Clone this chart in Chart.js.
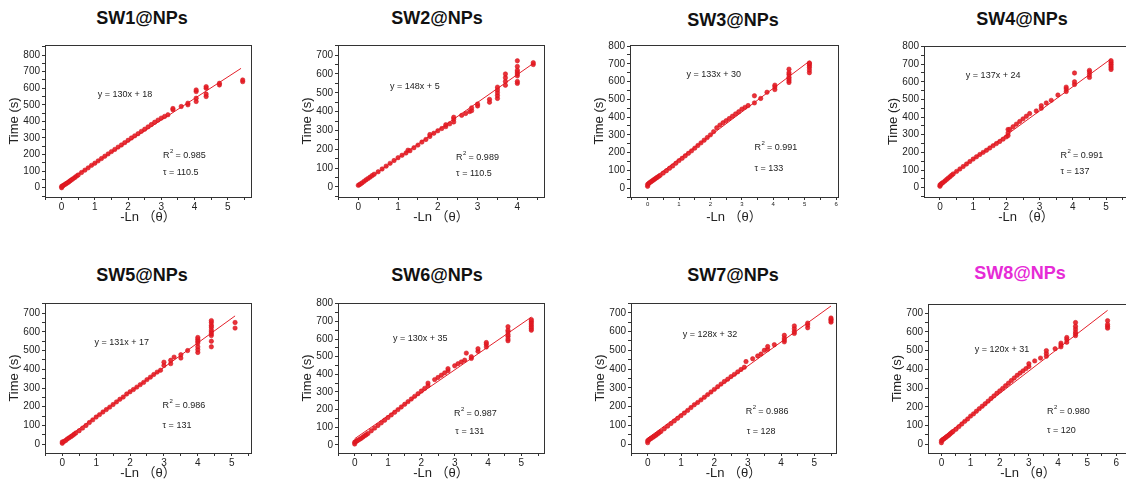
<!DOCTYPE html>
<html>
<head>
<meta charset="utf-8">
<script src="https://cdn.jsdelivr.net/npm/chart.js@4.4.1/dist/chart.umd.min.js"></script>
<style>
  body { margin: 0; width: 1126px; height: 488px; overflow: hidden; background: #fff; position: relative; font-family: "Liberation Sans", Arial, sans-serif; }
  .ttl { position: absolute; transform: translate(-50%, -50%); font-weight: bold; font-size: 18px; color: #111; white-space: nowrap; }
  canvas { position: absolute; }
</style>
</head>
<body>
<script>
// -Ln(theta) vs time, 8 samples
const sw1X = [0,0,0.03,0.06,0.1,0.14,0.18,0.22,0.26,0.3,0.35,0.4,0.45,0.5,0.6,0.7,0.8,0.9,1.0,1.1,1.2,1.3,1.4,1.5,1.6,1.7,1.8,1.9,2.0,2.1,2.2,2.3,2.4,2.5,2.6,2.7,2.8,2.9,3.0,3.1,3.2,3.35,3.35,3.6,3.8,3.8,4.05,4.05,4.05,4.05,4.35,4.35,4.35,4.35,4.75,4.75,5.45,5.45];
const sw1Y = [0,8,10,15,20,25,30,36,42,48,55,62,70,77,92,106,120,135,148,162,176,190,204,218,231,245,258,272,286,300,313,326,340,353,367,381,395,408,420,430,440,470,478,490,500,510,520,540,580,590,550,565,600,610,620,630,640,650];

const sw2X = [0,0.03,0.06,0.1,0.15,0.2,0.25,0.3,0.35,0.4,0.5,0.6,0.7,0.8,0.9,1.0,1.1,1.2,1.25,1.3,1.4,1.5,1.6,1.7,1.8,1.8,1.9,2.0,2.1,2.2,2.2,2.3,2.4,2.4,2.4,2.6,2.7,2.8,2.85,2.85,3.0,3.0,3.3,3.3,3.5,3.5,3.5,3.5,3.5,3.7,3.7,3.7,3.7,4.0,4.0,4.0,4.0,4.0,4.0,4.0,4.0,4.4,4.4];
const sw2Y = [8,12,16,22,30,38,45,52,60,67,80,95,110,125,140,155,168,180,195,192,208,222,238,252,268,278,285,298,310,320,330,335,345,360,370,380,390,400,405,420,430,440,450,465,470,485,500,515,530,540,560,580,600,550,560,590,600,610,620,640,670,650,660];

const sw3X = [0,0,0.03,0.06,0.1,0.14,0.18,0.22,0.26,0.3,0.35,0.4,0.5,0.6,0.7,0.8,0.9,1.0,1.1,1.2,1.3,1.4,1.5,1.6,1.7,1.8,1.9,2.0,2.1,2.2,2.3,2.4,2.5,2.6,2.7,2.8,2.9,3.0,3.1,3.2,3.4,3.4,3.6,3.8,4.05,4.05,4.05,4.5,4.5,4.5,4.5,4.5,4.5,4.5,5.15,5.15,5.15,5.15,5.15,5.15];
const sw3Y = [10,20,25,30,35,40,45,50,55,60,66,72,85,98,112,125,140,155,168,182,196,210,225,240,255,270,285,300,318,340,355,368,380,392,405,418,430,445,455,465,480,520,505,540,555,570,580,595,605,615,625,640,650,670,650,665,680,690,700,705];

const sw4X = [0,0,0.03,0.06,0.1,0.15,0.2,0.25,0.3,0.35,0.4,0.5,0.6,0.7,0.8,0.9,1.0,1.1,1.2,1.3,1.4,1.5,1.6,1.7,1.8,1.9,2.0,2.05,2.05,2.05,2.1,2.2,2.3,2.4,2.5,2.6,2.7,2.9,3.05,3.05,3.2,3.35,3.55,3.8,3.8,3.8,4.05,4.05,4.05,4.5,4.5,4.5,4.5,5.15,5.15,5.15,5.15,5.15,5.15];
const sw4Y = [8,15,20,25,30,38,46,54,62,70,78,92,106,120,134,148,162,175,188,200,212,225,238,250,262,275,288,295,310,330,330,345,360,375,390,405,420,435,450,465,480,495,525,545,560,570,585,600,650,625,640,655,665,670,680,690,700,710,720];

const sw5X = [0,0,0.05,0.1,0.15,0.2,0.25,0.3,0.35,0.4,0.5,0.6,0.7,0.8,0.9,1.0,1.1,1.2,1.3,1.4,1.5,1.6,1.7,1.8,1.9,2.0,2.1,2.2,2.3,2.4,2.5,2.6,2.7,2.8,2.9,3.0,3.0,3.2,3.2,3.3,3.5,3.5,3.7,4.0,4.0,4.0,4.0,4.0,4.0,4.0,4.4,4.4,4.4,4.4,4.4,4.4,4.4,4.4,4.4,4.4,5.1,5.1];
const sw5Y = [5,12,15,20,28,34,40,46,53,60,72,86,100,116,130,145,158,172,185,198,212,226,240,252,268,280,292,305,318,330,345,358,372,385,395,420,438,430,448,465,460,478,500,490,505,520,540,550,560,570,520,550,580,590,600,610,625,635,650,660,620,650];

const sw6X = [0,0,0.03,0.06,0.1,0.15,0.2,0.25,0.3,0.35,0.4,0.5,0.6,0.7,0.8,0.9,1.0,1.1,1.2,1.3,1.4,1.5,1.6,1.7,1.8,1.9,2.0,2.1,2.2,2.2,2.4,2.5,2.6,2.7,2.8,2.8,3.0,3.1,3.2,3.3,3.35,3.5,3.5,3.7,3.7,3.95,3.95,3.95,4.6,4.6,4.6,4.6,4.6,4.6,4.6,5.3,5.3,5.3,5.3,5.3,5.3,5.3];
const sw6Y = [5,15,18,22,26,32,38,45,52,58,65,80,95,110,125,140,155,170,185,200,215,230,245,260,275,290,305,320,335,350,370,382,395,408,420,432,448,460,470,480,520,490,500,530,545,555,570,580,590,600,615,625,640,650,670,650,660,670,680,690,700,710];

const sw7X = [0,0,0.03,0.06,0.1,0.15,0.2,0.25,0.3,0.35,0.4,0.5,0.6,0.7,0.8,0.9,1.0,1.1,1.2,1.3,1.4,1.5,1.6,1.7,1.8,1.9,2.0,2.1,2.2,2.3,2.4,2.5,2.6,2.7,2.8,2.9,2.95,3.15,3.3,3.4,3.5,3.6,3.6,3.8,4.1,4.1,4.1,4.1,4.4,4.4,4.4,4.4,4.8,4.8,4.8,5.5,5.5,5.5,5.5];
const sw7Y = [8,18,22,26,30,36,42,48,55,62,68,82,96,110,124,138,152,166,180,195,210,222,236,250,264,278,292,306,320,334,346,360,372,385,398,410,440,455,470,480,500,505,520,530,545,555,565,580,590,600,615,630,620,635,645,650,658,665,672];

const sw8X = [0,0,0.03,0.06,0.1,0.15,0.2,0.25,0.3,0.35,0.4,0.5,0.6,0.7,0.8,0.9,1.0,1.1,1.2,1.3,1.4,1.5,1.6,1.7,1.8,1.9,2.0,2.1,2.2,2.3,2.4,2.5,2.6,2.7,2.8,2.9,3.0,3.0,3.2,3.4,3.6,3.6,3.6,3.9,4.1,4.1,4.1,4.3,4.3,4.3,4.6,4.6,4.6,4.6,4.6,4.6,5.7,5.7,5.7,5.7];
const sw8Y = [8,18,22,26,30,36,42,48,55,62,68,80,94,108,122,135,150,162,176,190,203,216,230,244,258,272,285,298,312,326,340,354,368,380,392,404,415,430,445,460,470,485,500,510,520,530,540,545,560,570,580,590,600,615,630,650,620,630,640,660];

// linear fit end points (x, y)
const fit1 = [[0, 18], [5.4, 720]];
const fit2 = [[0, 5], [4.4, 656]];
const fit3 = [[0, 30], [5.15, 715]];
const fit4 = [[0, 24], [5.15, 730]];
const fit5 = [[0, 17], [5.1, 685]];
const fit6 = [[0, 35], [5.3, 724]];
const fit7 = [[0, 32], [5.5, 736]];
const fit8 = [[0, 31], [5.7, 715]];

// tick labels
const xTicks4 = [0, 1, 2, 3, 4];
const xTicks5 = [0, 1, 2, 3, 4, 5];
const xTicks6 = [0, 1, 2, 3, 4, 5, 6];
const yTicks700 = [0, 100, 200, 300, 400, 500, 600, 700];
const yTicks800 = [0, 100, 200, 300, 400, 500, 600, 700, 800];

// fit results
const titles = ["SW1@NPs", "SW2@NPs", "SW3@NPs", "SW4@NPs", "SW5@NPs", "SW6@NPs", "SW7@NPs", "SW8@NPs"];
const equations = ["y = 130x + 18", "y = 148x + 5", "y = 133x + 30", "y = 137x + 24", "y = 131x + 17", "y = 130x + 35", "y = 128x + 32", "y = 120x + 31"];
const r2Values = ["0.985", "0.989", "0.991", "0.991", "0.986", "0.987", "0.986", "0.980"];
const tauValues = ["110.5", "110.5", "133", "137", "131", "131", "128", "120"];

const RED = "rgba(232, 28, 36, 0.9)";

// panel layout: box = [left, top, right, bottom] of plot frame in px
const panels = [
  { x: sw1X, y: sw1Y, fit: fit1, xt: xTicks5, yt: yTicks800, box: [45, 43, 251, 197], xr: [-0.5, 5.7], yr: [-56, 861], tc: [142, 18],
    eq: [1.09, 562], r2: [3.05, 195], tau: [3.05, 89] },
  { x: sw2X, y: sw2Y, fit: fit2, xt: xTicks4, yt: yTicks700, box: [338, 43, 544, 197], xr: [-0.51, 4.67], yr: [-54, 754], tc: [437, 18],
    eq: [0.8, 534], r2: [2.46, 157], tau: [2.46, 70] },
  { x: sw3X, y: sw3Y, fit: fit3, xt: xTicks6, yt: yTicks800, box: [630, 43, 838, 197], xr: [-0.56, 6.06], yr: [-50, 806], tc: [733, 20],
    eq: [1.24, 642], r2: [3.4, 229], tau: [3.4, 112], smallX: true },
  { x: sw4X, y: sw4Y, fit: fit4, xt: xTicks5, yt: yTicks800, box: [924, 44, 1128, 197], xr: [-0.48, 5.66], yr: [-53, 803], tc: [1022, 19],
    eq: [0.78, 638], r2: [3.63, 185], tau: [3.63, 93] },
  { x: sw5X, y: sw5Y, fit: fit5, xt: xTicks5, yt: yTicks700, box: [45, 301, 251, 453], xr: [-0.51, 5.57], yr: [-47, 754], tc: [142, 275],
    eq: [0.95, 544], r2: [2.96, 206], tau: [2.96, 101] },
  { x: sw6X, y: sw6Y, fit: fit6, xt: xTicks5, yt: yTicks800, box: [338, 301, 544, 453], xr: [-0.5, 5.68], yr: [-46, 804], tc: [437, 275],
    eq: [1.15, 602], r2: [2.98, 177], tau: [3.02, 74] },
  { x: sw7X, y: sw7Y, fit: fit7, xt: xTicks5, yt: yTicks700, box: [631, 301, 836, 453], xr: [-0.5, 5.65], yr: [-47, 752], tc: [733, 275],
    eq: [1.05, 586], r2: [2.94, 175], tau: [2.97, 70] },
  { x: sw8X, y: sw8Y, fit: fit8, xt: xTicks6, yt: yTicks700, box: [928, 302, 1128, 453], xr: [-0.46, 6.4], yr: [-47, 749], tc: [1020, 273],
    eq: [1.14, 504], r2: [3.62, 176], tau: [3.62, 75], color: "#e62bd6" },
];

// frame + text annotations
const framePlugin = {
  id: "frame",
  afterDraw(chart, args, opts) {
    const { ctx, chartArea: a, scales } = chart;
    ctx.save();
    ctx.strokeStyle = "#333";
    ctx.lineWidth = 1;
    ctx.strokeRect(Math.round(a.left) + 0.5, Math.round(a.top) + 0.5, Math.round(a.right - a.left), Math.round(a.bottom - a.top));
    ctx.fillStyle = "#222";
    ctx.textBaseline = "middle";
    ctx.font = "9px 'Liberation Sans', Arial";
    const px = p => [scales.x.getPixelForValue(p[0]), scales.y.getPixelForValue(p[1])];
    let [ex, ey] = px(opts.eq);
    ctx.fillText(opts.eqText, ex, ey);
    let [rx, ry] = px(opts.r2);
    ctx.fillText("R", rx, ry);
    const rw = ctx.measureText("R").width;
    ctx.font = "6px 'Liberation Sans', Arial";
    ctx.fillText("2", rx + rw + 0.5, ry - 4);
    ctx.font = "9px 'Liberation Sans', Arial";
    ctx.fillText(" = " + opts.r2Text, rx + rw + 3.5, ry);
    let [tx, ty] = px(opts.tau);
    ctx.fillText("τ = " + opts.tauText, tx, ty);
    ctx.restore();
  },
};

function withMinor(list, step) {
  const out = [];
  list.forEach((v, i) => {
    out.push({ value: v });
    out.push({ value: v + step / 2 });
  });
  out.unshift({ value: list[0] - step / 2 });
  return out;
}

panels.forEach((p, i) => {
  const [l, t, r, b] = p.box;
  const padL = 45, padT = 6, padR = 10, padB = 28;

  const title = document.createElement("div");
  title.className = "ttl";
  title.textContent = titles[i];
  title.style.left = p.tc[0] + "px";
  title.style.top = p.tc[1] + "px";
  if (p.color) title.style.color = p.color;
  document.body.appendChild(title);

  const cv = document.createElement("canvas");
  cv.width = r - l + padL + padR;
  cv.height = b - t + padT + padB;
  cv.style.left = (l - padL) + "px";
  cv.style.top = (t - padT) + "px";
  document.body.appendChild(cv);

  const pts = p.x.map((v, k) => ({ x: v, y: p.y[k] }));
  const line = p.fit.map(q => ({ x: q[0], y: q[1] }));

  new Chart(cv.getContext("2d"), {
    type: "scatter",
    data: {
      datasets: [
        {
          data: pts,
          pointRadius: 2.2,
          pointBackgroundColor: RED,
          pointBorderColor: "rgba(210, 20, 30, 0.9)",
          pointBorderWidth: 0.6,
        },
        {
          data: line,
          showLine: true,
          pointRadius: 0,
          borderColor: "#e3202a",
          borderWidth: 1,
        },
      ],
    },
    options: {
      responsive: false,
      animation: false,
      events: [],
      layout: { padding: { left: 0, top: padT, right: padR, bottom: 0 } },
      plugins: {
        legend: { display: false },
        tooltip: { enabled: false },
        frame: { eq: p.eq, r2: p.r2, tau: p.tau, eqText: equations[i], r2Text: r2Values[i], tauText: tauValues[i] },
      },
      scales: {
        x: {
          type: "linear",
          min: p.xr[0],
          max: p.xr[1],
          afterBuildTicks: s => { s.ticks = withMinor(p.xt, 1).filter(q => q.value >= p.xr[0] && q.value <= p.xr[1]); },
          afterFit: s => { s.height = padB; },
          ticks: {
            autoSkip: false,
            maxRotation: 0,
            padding: 1,
            color: "#222",
            font: { size: p.smallX ? 6 : 10, family: "'Liberation Sans', Arial" },
            callback: v => (p.xt.includes(v) ? String(v) : ""),
          },
          grid: { drawOnChartArea: false, tickLength: 3, color: "#333" },
          border: { color: "#333" },
          title: { display: true, text: "-Ln （θ）", color: "#222", padding: 0, font: { size: 13, family: "'Liberation Sans', 'Noto Sans CJK SC', Arial" } },
        },
        y: {
          type: "linear",
          min: p.yr[0],
          max: p.yr[1],
          afterBuildTicks: s => { s.ticks = withMinor(p.yt, 100).filter(q => q.value >= p.yr[0] && q.value <= p.yr[1]); },
          afterFit: s => { s.width = padL; },
          ticks: {
            autoSkip: false,
            padding: 2,
            color: "#222",
            font: { size: 10, family: "'Liberation Sans', Arial" },
            callback: v => (p.yt.includes(v) ? String(v) : ""),
          },
          grid: { drawOnChartArea: false, tickLength: 3, color: "#333" },
          border: { color: "#333" },
          title: { display: true, text: "Time (s)", color: "#222", padding: { top: 7, bottom: 0 }, font: { size: 13, family: "'Liberation Sans', Arial" } },
        },
      },
    },
    plugins: [framePlugin],
  });
});
</script>
</body>
</html>
